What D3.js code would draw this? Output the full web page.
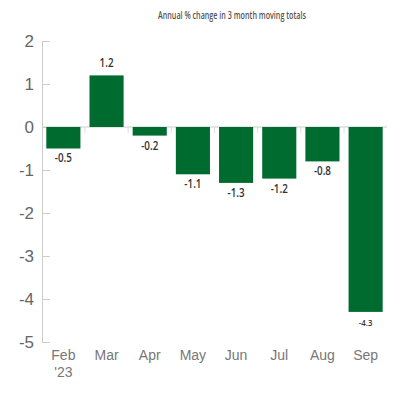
<!DOCTYPE html>
<html>
<head>
<meta charset="utf-8">
<script src="https://cdn.jsdelivr.net/npm/d3@7"></script>
<style>
  body { margin: 0; background: #fff; }
</style>
</head>
<body>
<svg id="vis" width="400" height="400"></svg>
<script>
let months = ["Feb", "Mar", "Apr", "May", "Jun", "Jul", "Aug", "Sep"];
let values = [-0.5, 1.2, -0.2, -1.1, -1.3, -1.2, -0.8, -4.3];
let yTicks = [2, 1, 0, -1, -2, -3, -4, -5];
let title = "Annual % change in 3 month moving totals";

let svg = d3.select("#vis");
let plotLeft = 42, plotRight = 387, plotTop = 41, plotBottom = 342;

let x = d3.scaleBand()
    .domain(months)
    .range([plotLeft, plotRight])
    .paddingInner(0.21)
    .paddingOuter(0.1);

let y = d3.scaleLinear()
    .domain([-5, 2])
    .range([plotBottom, plotTop]);

// title
svg.append("text")
    .attr("x", 232)
    .attr("y", 19)
    .attr("text-anchor", "middle")
    .attr("font-family", "'Open Sans', sans-serif")
    .attr("font-size", 10)
    .attr("font-weight", 600)
    .attr("textLength", 148)
    .attr("lengthAdjust", "spacingAndGlyphs")
    .attr("fill", "#555")
    .text(title);

// zero line
svg.append("line")
    .attr("x1", plotLeft).attr("x2", plotRight)
    .attr("y1", y(0)).attr("y2", y(0))
    .attr("stroke", "#ccc")
    .attr("stroke-width", 1);

// small ticks between bands on the zero line
let step = x.step();
svg.selectAll(".band-tick")
    .data(months.slice(1))
    .enter().append("line")
    .attr("class", "band-tick")
    .attr("x1", d => x(d) - step * x.paddingInner() / 2)
    .attr("x2", d => x(d) - step * x.paddingInner() / 2)
    .attr("y1", y(0))
    .attr("y2", y(0) + 6)
    .attr("stroke", "#ddd");

// y axis
let yAxis = svg.append("g")
    .attr("transform", `translate(${plotLeft}, 0)`)
    .call(d3.axisRight(y).tickValues(yTicks).tickSize(8).tickFormat(d => d));
yAxis.select(".domain").attr("stroke", "#ccc");
yAxis.selectAll(".tick line").attr("stroke", "#ccc");
yAxis.selectAll(".tick text")
    .attr("x", -8)
    .attr("text-anchor", "end")
    .attr("font-family", "'Liberation Sans', sans-serif")
    .attr("font-size", 17)
    .attr("fill", "#666");

// bars
svg.selectAll(".bar")
    .data(values)
    .enter().append("rect")
    .attr("class", "bar")
    .attr("x", (d, i) => x(months[i]))
    .attr("width", x.bandwidth())
    .attr("y", d => y(Math.max(0, d)))
    .attr("height", d => Math.abs(y(d) - y(0)))
    .attr("fill", "#006b2f");

// value labels
svg.selectAll(".val")
    .data(values)
    .enter().append("text")
    .attr("class", "val")
    .attr("x", (d, i) => x(months[i]) + x.bandwidth() / 2)
    .attr("y", d => d >= 0 ? y(d) - 8 : y(d) + 14)
    .attr("text-anchor", "middle")
    .attr("font-family", "'Open Sans', sans-serif")
    .attr("font-size", d => d < -4 ? 9.5 : 12)
    .attr("font-weight", 600)
    .attr("fill", "#333")
    .attr("transform", (d, i) => {
        let cx = x(months[i]) + x.bandwidth() / 2;
        return `translate(${cx},0) scale(0.82,1) translate(${-cx},0)`;
    })
    .text(d => d.toFixed(1));

// x labels
svg.selectAll(".xl")
    .data(months)
    .enter().append("text")
    .attr("class", "xl")
    .attr("x", d => x(d) + x.bandwidth() / 2)
    .attr("y", 360)
    .attr("text-anchor", "middle")
    .attr("font-family", "'Liberation Sans', sans-serif")
    .attr("font-size", 14)
    .attr("fill", "#777")
    .text(d => d);

svg.append("text")
    .attr("x", x(months[0]) + x.bandwidth() / 2)
    .attr("y", 377)
    .attr("text-anchor", "middle")
    .attr("font-family", "'Liberation Sans', sans-serif")
    .attr("font-size", 14)
    .attr("fill", "#777")
    .text("'23");
</script>
</body>
</html>
